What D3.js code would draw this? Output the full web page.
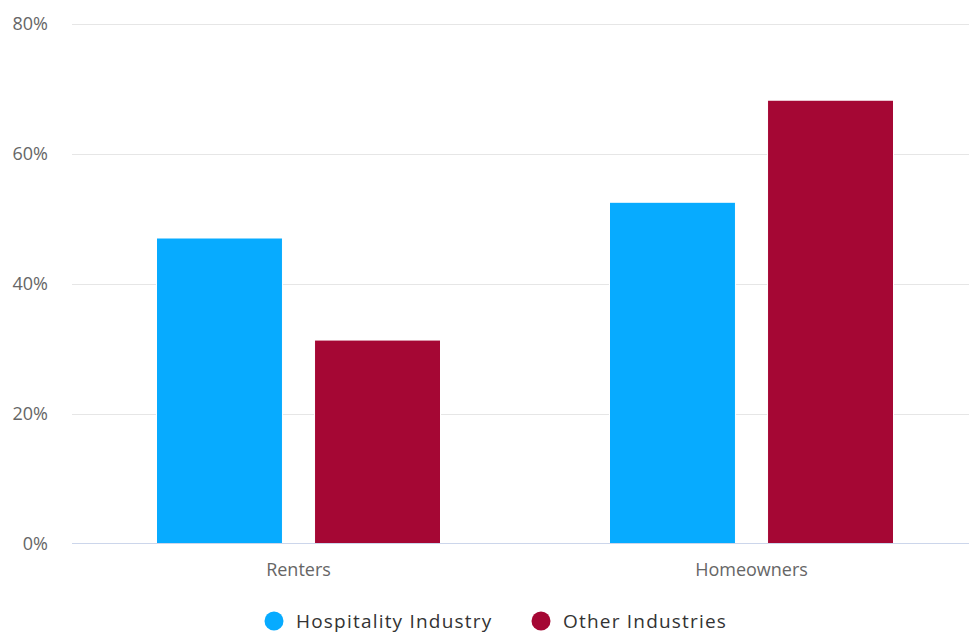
<!DOCTYPE html>
<html>
<head>
<meta charset="utf-8">
<script src="https://cdn.jsdelivr.net/npm/d3@7"></script>
<style>
  html, body { margin: 0; padding: 0; background: #fff; overflow: hidden; }
  text { font-family: "Open Sans", sans-serif; }
</style>
</head>
<body>
<svg id="chart" width="969" height="633"></svg>
<script>
const categories = ["Renters", "Homeowners"];
const seriesNames = ["Hospitality Industry", "Other Industries"];
const hospitality = [47.0, 52.5];
const other = [31.3, 68.2];
const yTicks = [0, 20, 40, 60, 80];
const colors = ["#07abff", "#a50734"];

const seriesValues = [hospitality, other];
const svg = d3.select("#chart");
const W = 969, H = 633;
const plot = { left: 72, right: 978, top: 23.5, bottom: 543.5 };

const y = d3.scaleLinear().domain([0, 80]).range([plot.bottom, plot.top]);
const x0 = d3.scaleBand().domain(categories).range([plot.left, plot.right]).padding(0);
const groupPad = 84.5;
const x1 = d3.scaleBand().domain(seriesNames)
  .range([groupPad, x0.bandwidth() - groupPad]).paddingInner(0.203).paddingOuter(0);

// gridlines
const grid = svg.append("g");
grid.selectAll("line").data(yTicks.filter(d => d !== 0)).join("line")
  .attr("x1", plot.left).attr("x2", W)
  .attr("y1", d => Math.round(y(d)) + 0.5).attr("y2", d => Math.round(y(d)) + 0.5)
  .attr("stroke", "#e6e6e6").attr("stroke-width", 1);

// y axis labels
const yAxis = d3.axisLeft(y).tickValues(yTicks).tickFormat(d => d + "%").tickSize(0).tickPadding(0);
const ya = svg.append("g").attr("transform", `translate(${48},0)`).call(yAxis);
ya.select(".domain").remove();
ya.selectAll("text").attr("font-size", 18).attr("fill", "#666")
  .attr("font-family", "Open Sans, sans-serif").attr("dy", "0.32em");

// bars
const groups = svg.append("g").selectAll("g").data(categories).join("g")
  .attr("transform", c => `translate(${x0(c)},0)`);
groups.selectAll("rect").data((c, i) => seriesNames.map((s, j) => ({ s, j, v: seriesValues[j][i] })))
  .join("rect")
  .attr("x", d => x1(d.s))
  .attr("width", x1.bandwidth())
  .attr("y", d => y(d.v))
  .attr("height", d => y(0) - y(d.v))
  .attr("fill", d => colors[d.j])
  .attr("stroke", "#fff").attr("stroke-width", 1);

// x axis
const xAxis = d3.axisBottom(x0).tickSize(0).tickPadding(0);
const xa = svg.append("g").attr("transform", `translate(0,${plot.bottom})`).call(xAxis);
xa.select(".domain").remove();
xa.selectAll("text").attr("font-size", 18).attr("fill", "#666")
  .attr("font-family", "Open Sans, sans-serif").attr("dy", "0").attr("y", 32.5);
svg.append("line").attr("x1", plot.left).attr("x2", W)
  .attr("y1", plot.bottom).attr("y2", plot.bottom)
  .attr("stroke", "#ccd6eb").attr("stroke-width", 1);

// legend
const legendX = [274, 541];
const leg = svg.append("g").selectAll("g").data(seriesNames).join("g")
  .attr("transform", (d, i) => `translate(${legendX[i]},621)`);
leg.append("circle").attr("r", 9.5).attr("fill", (d, i) => colors[i]);
leg.append("text").attr("x", 22).attr("y", 6.5).attr("font-size", 19)
  .attr("letter-spacing", 1.2).attr("fill", "#333")
  .text(d => d);
</script>
</body>
</html>
